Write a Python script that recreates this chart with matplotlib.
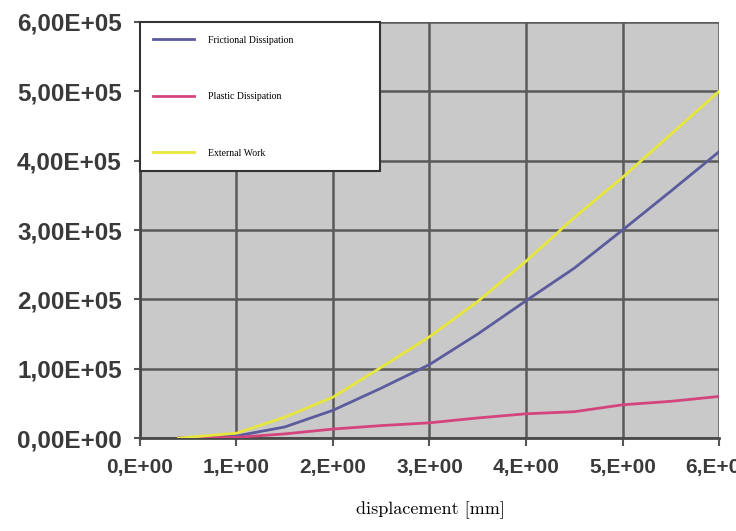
import matplotlib
matplotlib.use('Agg')
import matplotlib.pyplot as plt
from matplotlib.ticker import FixedLocator

plt.rcParams['font.family'] = ['Liberation Sans', 'DejaVu Sans']

# values (energy vs displacement)
displacement = [0.4, 1.0, 1.5, 2.0, 2.5, 3.0, 3.5, 4.0, 4.5, 5.0, 5.5, 6.0]
external_work = [0.0, 0.07, 0.30, 0.59, 1.02, 1.46, 1.97, 2.55, 3.18, 3.76, 4.38, 5.00]
frictional = [0.0, 0.03, 0.16, 0.40, 0.72, 1.06, 1.50, 1.98, 2.45, 3.00, 3.56, 4.13]
plastic = [0.0, 0.01, 0.06, 0.13, 0.18, 0.22, 0.29, 0.35, 0.38, 0.48, 0.53, 0.60]
scale = 1e5

x_ticks = [0, 1, 2, 3, 4, 5, 6]
x_labels = ['0,E+00', '1,E+00', '2,E+00', '3,E+00', '4,E+00', '5,E+00', '6,E+00']
y_ticks = [0, 1e5, 2e5, 3e5, 4e5, 5e5, 6e5]
y_labels = ['0,00E+00', '1,00E+05', '2,00E+05', '3,00E+05', '4,00E+05', '5,00E+05', '6,00E+05']

fig = plt.figure(figsize=(7.36, 5.31), dpi=100)
ax = fig.add_axes([0.190, 0.175, 0.787, 0.7836])
ax.set_facecolor('#c9c9c9')

ax.plot(displacement, [v * scale for v in frictional], color='#5b5b9e', lw=2.0,
        label='Frictional Dissipation', zorder=3)
ax.plot(displacement, [v * scale for v in plastic], color='#d4457e', lw=2.0,
        label='Plastic Dissipation', zorder=3)
ax.plot(displacement, [v * scale for v in external_work], color='#e6e63c', lw=2.0,
        label='External Work', zorder=3)

ax.set_xlim(0, 6)
ax.set_ylim(0, 6e5)
ax.xaxis.set_major_locator(FixedLocator(x_ticks))
ax.yaxis.set_major_locator(FixedLocator(y_ticks))
ax.set_xticklabels(x_labels)
ax.set_yticklabels(y_labels)
ax.tick_params(axis='x', labelsize=15, length=6, width=1.5, color='#555555',
               pad=8, labelcolor='#3a3a3a')
ax.tick_params(axis='y', labelsize=17.5, length=4, width=1.5, color='#555555',
               pad=9, labelcolor='#3a3a3a')
for lab in ax.get_xticklabels() + ax.get_yticklabels():
    lab.set_fontweight('bold')

ax.grid(True, color='#5a5a5a', lw=1.8, zorder=1)
ax.set_axisbelow(True)
for side in ('top', 'right'):
    ax.spines[side].set_visible(False)
for side in ('left', 'bottom'):
    ax.spines[side].set_color('#4a4a4a')
    ax.spines[side].set_linewidth(2)

leg = ax.legend(loc='upper left', bbox_to_anchor=(0, 0.649, 0.415, 0.351),
                mode='expand', borderaxespad=0, fancybox=False, framealpha=1,
                edgecolor='#333333', prop={'family': 'Liberation Serif', 'size': 7},
                handlelength=4.2, handletextpad=1.4, labelspacing=4.9, borderpad=1.4)
leg.get_frame().set_linewidth(1.5)
leg.set_zorder(5)

fig.text(0.585, 0.04, 'displacement [mm]', ha='center', va='center',
         fontsize=13, family='cmr10')

fig.savefig('out.png', dpi=100, facecolor='white')
